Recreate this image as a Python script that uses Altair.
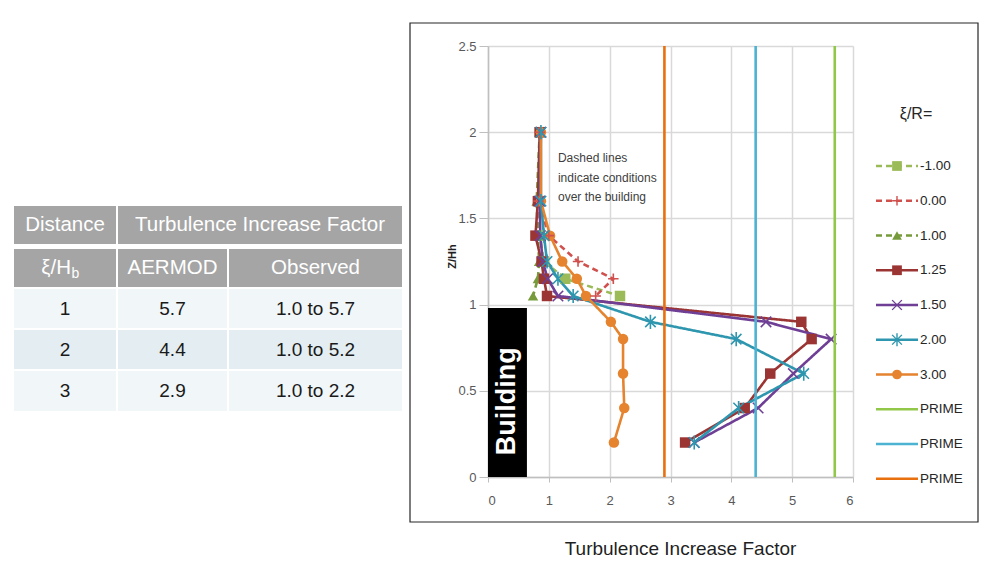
import altair as alt
import pandas as pd

# ---------------- data ----------------
heights = [2.0, 1.6, 1.4, 1.25, 1.15, 1.05, 0.9, 0.8, 0.6, 0.4, 0.2]
series_labels = ["-1.00", "0.00", "1.00", "1.25", "1.50", "2.00", "3.00"]
tif_m100 = [0.85, 0.83, 0.85, 0.92, 1.27, 2.17]
tif_000 = [0.85, 0.83, 1.00, 1.48, 2.06, 1.77]
tif_100 = [0.85, 0.80, 0.82, 0.84, 0.82, 0.74]
tif_125 = [0.85, 0.82, 0.78, 0.88, 0.92, 0.97, 5.15, 5.32, 4.64, 4.22, 3.24]
tif_150 = [0.87, 0.85, 0.86, 0.90, 0.98, 1.15, 4.57, 5.64, 5.02, 4.44, 3.39]
tif_200 = [0.87, 0.87, 0.92, 0.97, 1.15, 1.40, 2.67, 4.08, 5.19, 4.12, 3.39]
tif_300 = [0.87, 0.87, 1.02, 1.22, 1.46, 1.61, 2.02, 2.22, 2.22, 2.24, 2.07]
prime_values = [5.7, 4.4, 2.9]
prime_keys = ["PRIME 5.7", "PRIME 4.4", "PRIME 2.9"]
prime_label = "PRIME"

building = {"x0": 0.0, "x1": 0.64, "z0": 0.0, "z1": 0.98, "label": "Building"}
note_text = "Dashed lines\nindicate conditions\nover the building"
legend_title = "ξ/R="

table_header_top = ["Distance", "Turbulence Increase Factor"]
table_header_sub = ["ξ/H", "AERMOD", "Observed"]
table_sub_suffix = "b"
table_distance = ["1", "2", "3"]
table_aermod = ["5.7", "4.4", "2.9"]
table_observed = ["1.0 to 5.7", "1.0 to 5.2", "1.0  to 2.2"]

# ---------------- styles ----------------
all_keys = series_labels + prime_keys
all_colors = ["#9BBB59", "#D0504D", "#779B3A", "#9B3534", "#6E3F95", "#2E96AE", "#E5832F",
              "#92C84A", "#4DB3D3", "#E8700F"]
DASH = [6, 4]
SOLID = [1, 0]
all_dashes = [DASH, DASH, DASH, SOLID, SOLID, SOLID, SOLID, SOLID, SOLID, SOLID]
plus_path = "M-1,0L1,0M0,-1L0,1"
x_path = "M-1,-1L1,1M-1,1L1,-1"
ast_path = "M-1,-1L1,1M-1,1L1,-1M0,-1.35L0,1.35"
shapes = ["square", plus_path, "triangle-up", "square", x_path, ast_path, "circle"]
filled_series = ["-1.00", "1.00", "1.25", "3.00"]
stroked_series = ["0.00", "1.50", "2.00"]

SANS = "Liberation Sans, Arial, sans-serif"

# layout of the page (pixels); the plot area starts at (OX, OY)
OX, OY = 488, 45
W, H = 365, 431

# ---------------- frames ----------------
rows = []
for name, vals in zip(series_labels, [tif_m100, tif_000, tif_100, tif_125, tif_150, tif_200, tif_300]):
    for i, v in enumerate(vals):
        rows.append({"series": name, "tif": v, "z": heights[i], "idx": i})
df = pd.DataFrame(rows)
df_prime = pd.DataFrame({"series": prime_keys, "tif": prime_values})
df_build = pd.DataFrame([{"tif": building["x0"], "tif2": building["x1"],
                          "z": building["z0"], "z2": building["z1"],
                          "label": building["label"],
                          "cx": (building["x0"] + building["x1"]) / 2, "cz": 0.44}])
df_note = pd.DataFrame([{"tif": 1.15, "z": 1.85, "label": note_text}])

xs = alt.Scale(domain=[0, 6], nice=False, zero=False)
ys = alt.Scale(domain=[0, 2.5], nice=False, zero=False)
xaxis = alt.Axis(values=[0, 1, 2, 3, 4, 5, 6], format="d", grid=True, gridColor="#D9D9D9",
                 gridWidth=1.5, domainColor="#BFBFBF", domainWidth=1.5, tickColor="#BFBFBF",
                 tickSize=5, labelColor="#595959", labelFont=SANS, labelFontSize=13,
                 labelPadding=12, title="Turbulence Increase Factor", titleFont=SANS,
                 titleFontSize=19, titleFontWeight="normal", titleColor="#1F1F1F",
                 titleX=192, titleY=71, titleBaseline="middle", titleAlign="center")
yaxis = alt.Axis(values=[0, 0.5, 1, 1.5, 2, 2.5], format="~g", grid=True, gridColor="#D9D9D9",
                 gridWidth=1.5, domainColor="#BFBFBF", domainWidth=1.5, tickColor="#BFBFBF",
                 tickSize=9, labelColor="#595959", labelFont=SANS, labelFontSize=13,
                 labelPadding=3, title="Z/Hh", titleFont=SANS, titleFontSize=11,
                 titleFontWeight="bold", titleColor="#1F1F1F", titleX=-36, titleY=210,
                 titleAngle=270, titleBaseline="middle", titleAlign="center")

X = alt.X("tif:Q", scale=xs, axis=xaxis)
Y = alt.Y("z:Q", scale=ys, axis=yaxis)
col = alt.Color("series:N", scale=alt.Scale(domain=all_keys, range=all_colors), legend=None)
dash = alt.StrokeDash("series:N", scale=alt.Scale(domain=all_keys, range=all_dashes), legend=None)
shp = alt.Shape("series:N", scale=alt.Scale(domain=series_labels, range=shapes), legend=None)

build_rect = alt.Chart(df_build).mark_rect(color="black").encode(
    x=X, x2="tif2:Q", y=Y, y2="z2:Q")
build_text = alt.Chart(df_build).mark_text(angle=270, color="white", font=SANS, fontSize=27,
                                           fontWeight="bold", baseline="middle", align="center").encode(
    x=alt.X("cx:Q", scale=xs, axis=xaxis), y=alt.Y("cz:Q", scale=ys, axis=yaxis), text="label:N")
note = alt.Chart(df_note).mark_text(align="left", baseline="middle", lineBreak="\n",
                                    lineHeight=19.5, font=SANS, fontSize=12, color="#404040").encode(
    x=X, y=Y, text="label:N")

lines = alt.Chart(df).mark_line(strokeWidth=2.6).encode(
    x=X, y=Y, color=col, strokeDash=dash, order="idx:Q")
pts_f = alt.Chart(df).transform_filter(
    alt.FieldOneOfPredicate(field="series", oneOf=filled_series)
).mark_point(filled=True, size=110, opacity=1).encode(x=X, y=Y, color=col, shape=shp)
pts_s = alt.Chart(df).transform_filter(
    alt.FieldOneOfPredicate(field="series", oneOf=stroked_series)
).mark_point(filled=False, size=110, strokeWidth=1.6, opacity=1).encode(x=X, y=Y, color=col, shape=shp)
prime = alt.Chart(df_prime).mark_rule(strokeWidth=2.6).encode(x=X, color=col)

# ---------------- legend (drawn inside the framed box) ----------------
leg_rows = []
for i, k in enumerate(all_keys):
    lab = k if k in series_labels else prime_label
    leg_rows.append({"series": k, "label": lab, "ly": 165 - OY + i * 34.75})
df_leg = pd.DataFrame(leg_rows)
LY = alt.Y("ly:Q", scale=None, axis=None)
leg_line = alt.Chart(df_leg).mark_rule(strokeWidth=2.6).encode(
    x=alt.value(876 - OX), x2=alt.value(918 - OX), y=LY, color=col, strokeDash=dash)
leg_pf = alt.Chart(df_leg).transform_filter(
    alt.FieldOneOfPredicate(field="series", oneOf=filled_series)
).mark_point(filled=True, size=95, opacity=1).encode(x=alt.value(897 - OX), y=LY, color=col, shape=shp)
leg_ps = alt.Chart(df_leg).transform_filter(
    alt.FieldOneOfPredicate(field="series", oneOf=stroked_series)
).mark_point(filled=False, size=95, strokeWidth=1.4, opacity=1).encode(
    x=alt.value(897 - OX), y=LY, color=col, shape=shp)
leg_txt = alt.Chart(df_leg).mark_text(align="left", baseline="middle", font=SANS, fontSize=13.5,
                                      color="#262626").encode(x=alt.value(920 - OX), y=LY, text="label:N")
leg_title = alt.Chart(pd.DataFrame([{"t": legend_title}])).mark_text(
    align="center", baseline="middle", font=SANS, fontSize=16, color="#262626").encode(
    x=alt.value(916 - OX), y=alt.value(113 - OY), text="t:N")

# frame around the chart
frame = alt.Chart(pd.DataFrame([{"a": 1}])).mark_rect(
    fill=None, stroke="#262626", strokeWidth=1.2).encode(
    x=alt.value(410 - OX), x2=alt.value(978 - OX), y=alt.value(22 - OY), y2=alt.value(521 - OY))

# ---------------- table ----------------
col_edges = [(14, 116), (118, 227), (229, 402)]
top_edges = [(14, 116), (118, 402)]
row_h1, row_h2 = (205, 243), (248, 286)
body_rows = [(288, 327), (329, 368), (370, 410)]
body_fills = ["#F1F6F9", "#E4EEF2", "#F1F6F9"]
cells, htxt, btxt = [], [], []
for (a, b), t in zip(top_edges, table_header_top):
    cells.append({"x0": a - OX, "x1": b - OX, "y0": row_h1[0] - OY, "y1": row_h1[1] - OY, "fill": "#A5A5A5"})
    htxt.append({"px": (a + b) / 2 - OX, "py": (row_h1[0] + row_h1[1]) / 2 - OY, "t": t, "align": "center"})
for j, ((a, b), t) in enumerate(zip(col_edges, table_header_sub)):
    cells.append({"x0": a - OX, "x1": b - OX, "y0": row_h2[0] - OY, "y1": row_h2[1] - OY, "fill": "#A5A5A5"})
    if j == 0:
        htxt.append({"px": 71 - OX, "py": (row_h2[0] + row_h2[1]) / 2 - OY, "t": t, "align": "right"})
    else:
        htxt.append({"px": (a + b) / 2 - OX, "py": (row_h2[0] + row_h2[1]) / 2 - OY, "t": t, "align": "center"})
for r, ((y0, y1), fill) in enumerate(zip(body_rows, body_fills)):
    vals = [table_distance[r], table_aermod[r], table_observed[r]]
    for (a, b), v in zip(col_edges, vals):
        cells.append({"x0": a - OX, "x1": b - OX, "y0": y0 - OY, "y1": y1 - OY, "fill": fill})
        btxt.append({"px": (a + b) / 2 - OX, "py": (y0 + y1) / 2 - OY, "t": v})
df_cells = pd.DataFrame(cells)
df_htxt = pd.DataFrame(htxt)
df_btxt = pd.DataFrame(btxt)
df_sub = pd.DataFrame([{"px": 71.5 - OX, "py": (row_h2[0] + row_h2[1]) / 2 + 6 - OY, "t": table_sub_suffix}])

PX = alt.X("px:Q", scale=None, axis=None)
PY = alt.Y("py:Q", scale=None, axis=None)
t_cells = alt.Chart(df_cells).mark_rect().encode(
    x=alt.X("x0:Q", scale=None, axis=None), x2="x1:Q",
    y=alt.Y("y0:Q", scale=None, axis=None), y2="y1:Q",
    fill=alt.Fill("fill:N", scale=None))
t_head_c = alt.Chart(df_htxt).transform_filter("datum.align == 'center'").mark_text(
    align="center", baseline="middle", font=SANS, fontSize=20.5, color="white").encode(x=PX, y=PY, text="t:N")
t_head_r = alt.Chart(df_htxt).transform_filter("datum.align == 'right'").mark_text(
    align="right", baseline="middle", font=SANS, fontSize=20.5, color="white").encode(x=PX, y=PY, text="t:N")
t_sub = alt.Chart(df_sub).mark_text(align="left", baseline="middle", font=SANS, fontSize=14,
                                    color="white").encode(x=PX, y=PY, text="t:N")
t_body = alt.Chart(df_btxt).mark_text(align="center", baseline="middle", font=SANS, fontSize=19,
                                      color="#1A1A1A").encode(x=PX, y=PY, text="t:N")

chart = alt.layer(
    build_rect, build_text, note, lines, pts_f, pts_s, prime,
    leg_line, leg_pf, leg_ps, leg_txt, leg_title, frame,
    t_cells, t_head_c, t_head_r, t_sub, t_body
).properties(
    width=W, height=H,
    padding={"left": 6, "top": 14, "right": 0, "bottom": 0},
    background="white"
).configure_view(stroke=None)

chart.save("out.html", embed_options={"renderer": "svg", "actions": False})
